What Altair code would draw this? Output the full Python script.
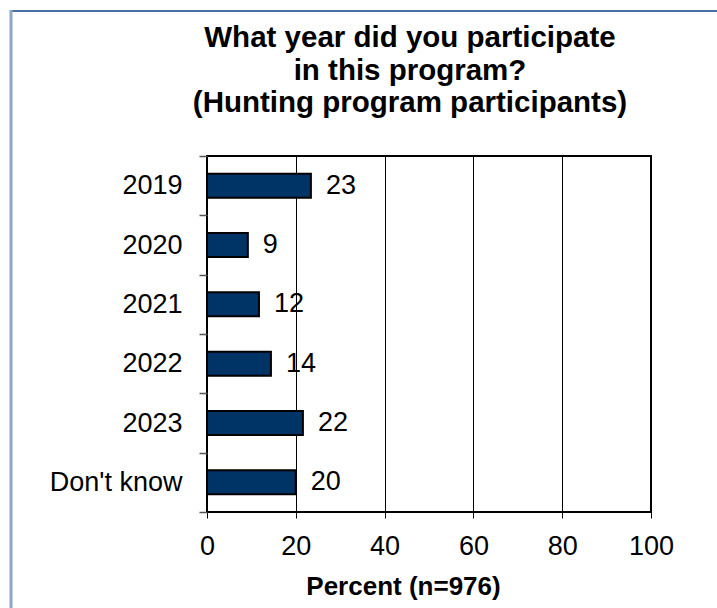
import altair as alt
import pandas as pd

categories = ["2019", "2020", "2021", "2022", "2023", "Don't know"]
values = [23.4, 9.2, 11.7, 14.4, 21.6, 20.0]
title_lines = ["What year did you participate", "in this program?",
               "(Hunting program participants)"]

df = pd.DataFrame({"cat": categories, "val": values})
FONT = "Liberation Sans"

y_enc = alt.Y("cat:N", sort=categories, title=None,
              scale=alt.Scale(paddingInner=0, paddingOuter=0),
              axis=alt.Axis(tickBand="extent", tickSize=8, tickColor="#555555",
                            tickWidth=1.5, labelFontSize=27, labelFont=FONT,
                            labelColor="black", labelPadding=17, domain=False,
                            grid=False))
x_enc = alt.X("val:Q", title="Percent (n=976)",
              scale=alt.Scale(domain=[0, 100], nice=False),
              axis=alt.Axis(values=[0, 20, 40, 60, 80, 100], tickSize=6,
                            tickColor="black", labelFontSize=27, labelFont=FONT,
                            labelColor="black", labelPadding=15, labelFlush=False,
                            grid=True, gridColor="black", gridWidth=1,
                            gridOpacity=1, domain=False, titleFontSize=26,
                            titleFont=FONT, titleFontWeight="bold",
                            titleColor="black", titlePadding=14, titleX=196))

base = alt.Chart(df)
bars = base.mark_bar(size=24, color="#003366", stroke="black",
                     strokeWidth=2).encode(x=x_enc, y=y_enc)
labels = base.mark_text(align="left", baseline="middle", dx=15, fontSize=27,
                        font=FONT, color="black").encode(
    x="val:Q", y=alt.Y("cat:N", sort=categories),
    text=alt.Text("val:Q", format=".0f"))

one = pd.DataFrame({"a": [0]})
top_border = alt.Chart(one).mark_rule(color="#4a70a8", strokeWidth=2).encode(
    x=alt.value(-197), x2=alt.value(520), y=alt.value(-145))
left_border = alt.Chart(one).mark_rule(color="#8aa8c4", strokeWidth=3).encode(
    x=alt.value(-196), y=alt.value(-146), y2=alt.value(460))

title_layers = [
    alt.Chart(one).mark_text(text=line, font=FONT, fontSize=29.5,
                             fontWeight="bold", color="black", align="center",
                             baseline="alphabetic").encode(
        x=alt.value(203), y=alt.value(yy))
    for line, yy in zip(title_lines, [-109, -76, -44])
]

chart = alt.layer(top_border, left_border, bars, labels, *title_layers).properties(
    width=444, height=356,
    autosize=alt.AutoSizeParams(type="none"),
    padding={"left": 207, "top": 156, "right": 66, "bottom": 96},
).configure(background="white").configure_view(stroke="black", strokeWidth=2)

chart.save("out.html", embed_options={"renderer": "svg", "actions": False})
